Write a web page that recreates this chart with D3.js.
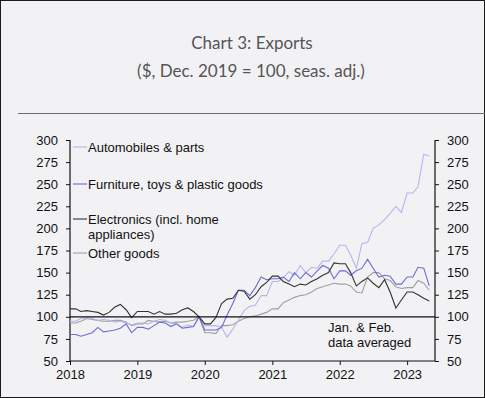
<!doctype html>
<html>
<head>
<meta charset="utf-8">
<script src="https://cdnjs.cloudflare.com/ajax/libs/d3/7.8.5/d3.min.js"></script>
<style>
  body { margin: 0; background: #f2f2f5; }
  svg { display: block; }
  .tick text { font-family: "Liberation Sans", Arial, sans-serif; font-size: 13px; fill: #111; }
</style>
</head>
<body>
<svg id="chart" width="485" height="398"></svg>
<script>
// monthly, Jan 2018 .. May 2023
const months = d3.timeMonth.range(new Date(2018, 0, 1), new Date(2023, 5, 1));
const yTicks = [50, 75, 100, 125, 150, 175, 200, 225, 250, 275, 300];
const xTicks = [2018, 2019, 2020, 2021, 2022, 2023];

const autos = [95, 95, 98, 99, 98, 96, 97, 96, 94, 95, 93, 91,
  93, 93, 92, 95, 97, 96, 93, 92, 88, 91, 89, 100,
  90, 90, 90, 88, 77, 86, 96, 107, 112, 113, 124, 124,
  140, 140, 144, 151, 147, 158, 150, 156, 155, 163, 163, 171,
  181, 181, 170, 155, 183, 184, 200, 204, 210, 217, 225, 218,
  240, 240, 247, 284, 282];
const furniture = [80, 80, 78, 80, 82, 88, 83, 84, 85, 87, 92, 82,
  88, 88, 86, 90, 94, 93, 89, 92, 87, 88, 89, 100,
  85, 85, 85, 88, 102, 115, 130, 130, 124, 133, 145, 142,
  143, 143, 145, 140, 150, 143, 150, 145, 152, 158, 155, 143,
  152, 152, 147, 152, 155, 165, 155, 145, 147, 146, 137, 137,
  145, 145, 156, 155, 135];
const electronics = [109, 109, 106, 107, 106, 105, 102, 105, 111, 114, 108, 99,
  106, 106, 106, 103, 106, 103, 103, 104, 108, 110, 106, 100,
  92, 92, 99, 115, 120, 121, 130, 129, 120, 125, 134, 139,
  146, 146, 140, 137, 134, 137, 136, 140, 143, 147, 150, 161,
  160, 160, 150, 135, 140, 144, 138, 133, 142, 128, 110, 119,
  128, 128, 125, 121, 118];
const other = [93, 93, 95, 98, 97, 96, 95, 95, 96, 96, 94, 90,
  92, 92, 96, 95, 94, 95, 93, 94, 94, 95, 96, 100,
  82, 82, 81, 90, 90, 91, 95, 98, 100, 101, 103, 105,
  109, 109, 116, 119, 122, 124, 125, 128, 132, 134, 136, 138,
  137, 137, 135, 128, 127, 145, 150, 150, 143, 141, 134, 132,
  133, 133, 141, 138, 130];

const series = [
  {name: "Automobiles & parts", values: autos, color: "#b6b6ec"},
  {name: "Furniture, toys & plastic goods", values: furniture, color: "#6b6bdc"},
  {name: "Electronics (incl. home|appliances)", values: electronics, color: "#333333"},
  {name: "Other goods", values: other, color: "#a0a0a0"}
];

const svg = d3.select("#chart");
const W = 485, H = 398;
const plotL = 70, plotR = 435, plotT = 140, plotB = 361;

svg.append("rect").attr("x", 0.5).attr("y", 0.5).attr("width", W - 1).attr("height", H - 1)
  .attr("fill", "#f2f2f5").attr("stroke", "#1a1a1a");

svg.append("text").attr("x", 252).attr("y", 49).attr("text-anchor", "middle")
  .style("font-family", "Lato, 'Open Sans', sans-serif").style("font-size", "17px").style("fill", "#555")
  .text("Chart 3: Exports");
svg.append("text").attr("x", 251).attr("y", 77).attr("text-anchor", "middle")
  .style("font-family", "Lato, 'Open Sans', sans-serif").style("font-size", "17px").style("fill", "#555")
  .text("($, Dec. 2019 = 100, seas. adj.)");
svg.append("line").attr("x1", 18).attr("x2", W).attr("y1", 113.5).attr("y2", 113.5)
  .attr("stroke", "#6a6a72").attr("stroke-width", 1.2);

const x = d3.scaleTime().domain([new Date(2018, 0, 1), new Date(2023, 5, 1)]).range([plotL, plotR]);
const y = d3.scaleLinear().domain([50, 300]).range([plotB, plotT]);

const yl = svg.append("g").attr("transform", `translate(${plotL},0)`)
  .call(d3.axisLeft(y).tickValues(yTicks).tickSize(4).tickPadding(8));
const yr = svg.append("g").attr("transform", `translate(${plotR},0)`)
  .call(d3.axisRight(y).tickValues(yTicks).tickSize(4).tickPadding(8));
const xa = svg.append("g").attr("transform", `translate(0,${plotB})`)
  .call(d3.axisBottom(x).tickValues(xTicks.map(d => new Date(d, 0, 1)))
    .tickFormat(d3.timeFormat("%Y")).tickSize(4).tickPadding(5));
[yl, yr, xa].forEach(g => {
  g.select(".domain").attr("stroke", "#111").attr("stroke-width", 1.2);
  g.selectAll(".tick line").attr("stroke", "#111");
});
xa.select(".domain").attr("d", `M${plotL},0H${plotR}`);
yl.select(".domain").attr("d", `M0,${plotB}V${plotT}`);
yr.select(".domain").attr("d", `M0,${plotB}V${plotT}`);

const line = d3.line().x((d, i) => x(months[i])).y(d => y(d));

// draw back to front
[series[3], series[0], series[1], series[2]].forEach(s => {
  svg.append("path").datum(s.values).attr("d", line)
    .attr("fill", "none").attr("stroke", s.color).attr("stroke-width", 1.1);
});

svg.append("line").attr("x1", plotL).attr("x2", plotR).attr("y1", y(100)).attr("y2", y(100))
  .attr("stroke", "#111").attr("stroke-width", 1.2);

// legend
const legY = [147, 184, 219, 253];
series.forEach((s, i) => {
  const g = svg.append("g").attr("transform", `translate(0,${legY[i]})`);
  g.append("line").attr("x1", 73).attr("x2", 87).attr("stroke", s.color).attr("stroke-width", 1.1);
  s.name.split("|").forEach((t, k) => {
    g.append("text").attr("x", 88).attr("y", 5 + k * 15)
      .style("font-family", "'Liberation Sans', Arial, sans-serif").style("font-size", "13px").style("fill", "#111")
      .text(t);
  });
});

svg.append("text").attr("x", 328).attr("y", 332)
  .style("font-family", "'Liberation Sans', Arial, sans-serif").style("font-size", "13px").style("fill", "#111")
  .selectAll("tspan").data(["Jan. & Feb.", "data averaged"]).join("tspan")
  .attr("x", 328).attr("dy", (d, i) => i ? 15 : 0).text(d => d);
</script>
</body>
</html>
